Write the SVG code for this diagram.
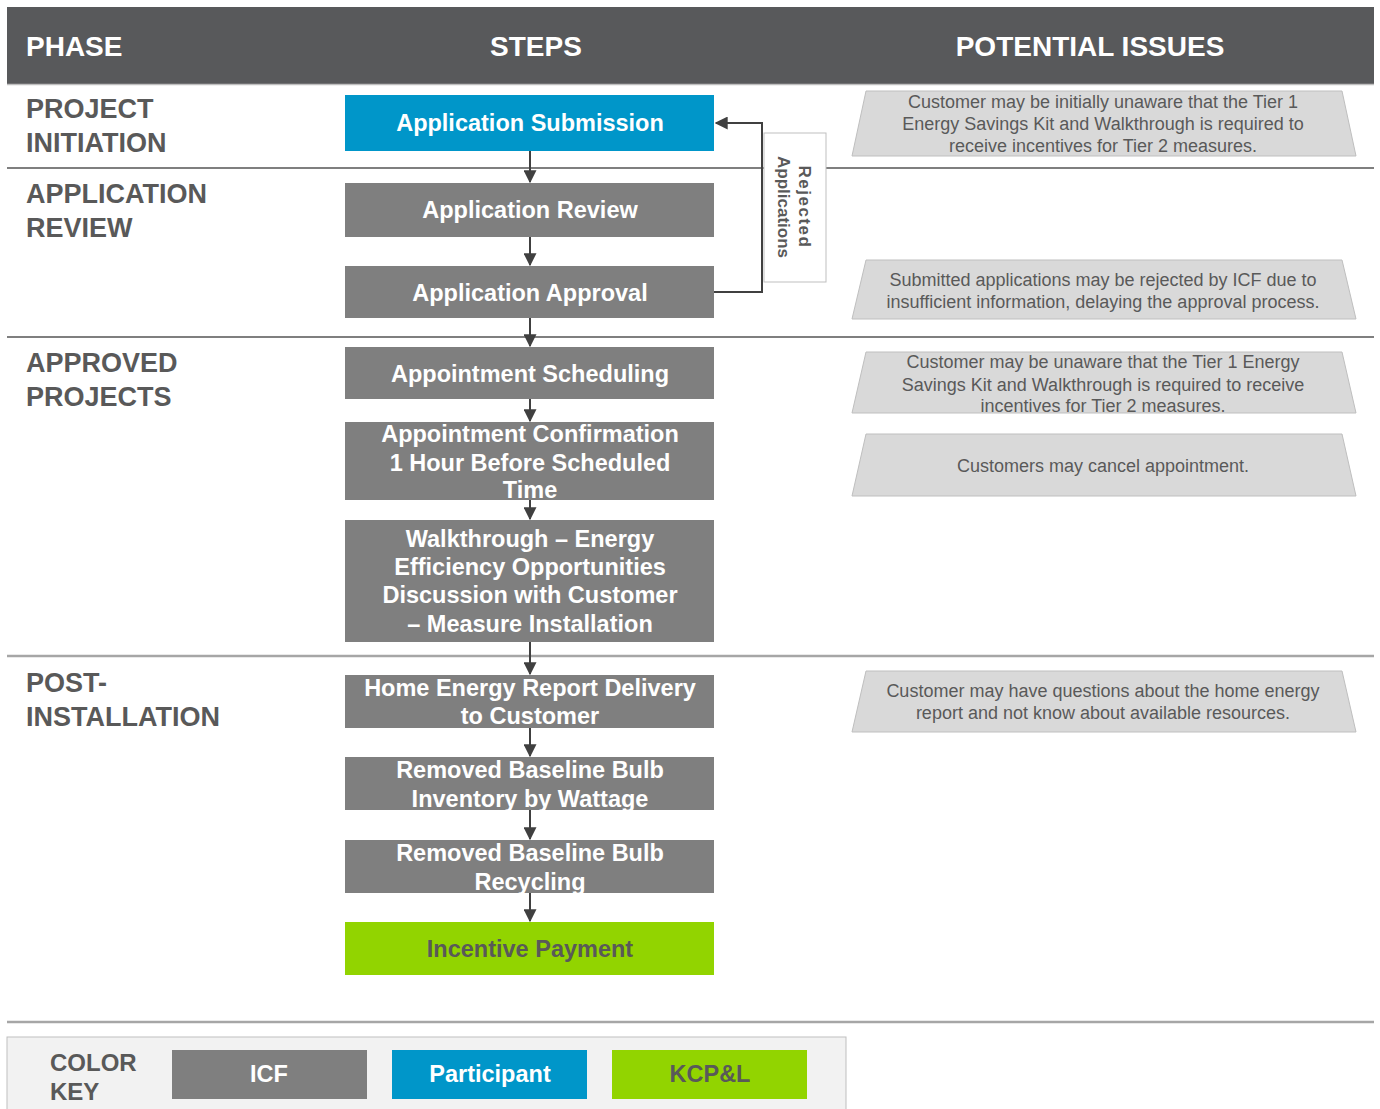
<svg xmlns="http://www.w3.org/2000/svg" width="1380" height="1109" viewBox="0 0 1380 1109">
<defs>
<style>
.hdr{font-family:"Liberation Sans",Arial,sans-serif;font-weight:bold;font-size:28px;fill:#ffffff}
.ph{font-family:"Liberation Sans",Arial,sans-serif;font-weight:bold;font-size:27px;fill:#595959}
.st{font-family:"Liberation Sans",Arial,sans-serif;font-weight:bold;font-size:23.5px;fill:#ffffff;text-anchor:middle;dominant-baseline:central}
.gray{fill:#7f7f7f}
.blue{fill:#0096c9}
.green{fill:#92d400}
.iss{fill:#d9d9d9;stroke:#bfbfbf;stroke-width:1}
.it{font-family:"Liberation Sans",Arial,sans-serif;font-size:18px;fill:#595959;text-anchor:middle;dominant-baseline:central}
.div{stroke:#7f7f7f;stroke-width:2}
.conn{stroke:#404040;stroke-width:2;fill:none}
</style>
<marker id="arr" viewBox="0 0 10 10" refX="9" refY="5" markerWidth="6.5" markerHeight="6.5" markerUnits="strokeWidth" orient="auto">
<path d="M0,0 L10,5 L0,10 z" fill="#404040"/>
</marker>
</defs>
<rect x="0" y="0" width="1380" height="1109" fill="#ffffff"/>
<g id="header">
<rect x="7" y="7" width="1367" height="77" fill="#58595b"/>
<line x1="7" y1="84.5" x2="1374" y2="84.5" stroke="#bfbfbf" stroke-width="1.5"/>
<text class="hdr" x="26" y="56">PHASE</text>
<text class="hdr" x="536" y="56" text-anchor="middle">STEPS</text>
<text class="hdr" x="1090" y="56" text-anchor="middle">POTENTIAL ISSUES</text>
</g>
<g id="dividers">
<line class="div" x1="7" y1="168" x2="1374" y2="168"/>
<line class="div" x1="7" y1="337" x2="1374" y2="337"/>
<line x1="7" y1="656" x2="1374" y2="656" stroke="#a6a6a6" stroke-width="2.5"/>
<line x1="7" y1="1022" x2="1374" y2="1022" stroke="#a6a6a6" stroke-width="2.5"/>
</g>
<g id="phases">
<text class="ph" x="26" y="118">PROJECT</text>
<text class="ph" x="26" y="152">INITIATION</text>
<text class="ph" x="26" y="203">APPLICATION</text>
<text class="ph" x="26" y="237">REVIEW</text>
<text class="ph" x="26" y="372">APPROVED</text>
<text class="ph" x="26" y="406">PROJECTS</text>
<text class="ph" x="26" y="692">POST-</text>
<text class="ph" x="26" y="726">INSTALLATION</text>
</g>
<g id="connectors">
<line class="conn" x1="530" y1="151" x2="530" y2="182" marker-end="url(#arr)"/>
<line class="conn" x1="530" y1="237" x2="530" y2="265" marker-end="url(#arr)"/>
<line class="conn" x1="530" y1="318" x2="530" y2="346" marker-end="url(#arr)"/>
<line class="conn" x1="530" y1="399" x2="530" y2="421" marker-end="url(#arr)"/>
<line class="conn" x1="530" y1="500" x2="530" y2="519" marker-end="url(#arr)"/>
<line class="conn" x1="530" y1="642" x2="530" y2="674" marker-end="url(#arr)"/>
<line class="conn" x1="530" y1="728" x2="530" y2="756" marker-end="url(#arr)"/>
<line class="conn" x1="530" y1="810" x2="530" y2="839" marker-end="url(#arr)"/>
<line class="conn" x1="530" y1="893" x2="530" y2="921" marker-end="url(#arr)"/>
<polyline class="conn" points="714,292 762,292 762,123 716,123" marker-end="url(#arr)"/>
</g>
<g id="rejected">
<rect x="764" y="133" width="62" height="149" fill="#ffffff" stroke="#bfbfbf" stroke-width="1"/>
<g transform="translate(795,207) rotate(90)">
<text x="0" y="-9" font-family="Liberation Sans,Arial,sans-serif" font-weight="bold" font-size="17" fill="#595959" text-anchor="middle" dominant-baseline="central" letter-spacing="1.5">Rejected</text>
<text x="0" y="12" font-family="Liberation Sans,Arial,sans-serif" font-weight="bold" font-size="17" fill="#595959" text-anchor="middle" dominant-baseline="central">Applications</text>
</g>
</g>
<g id="step1"><rect class="blue" x="345" y="95" width="369" height="56"/><text class="st" x="530" y="123">Application Submission</text></g>
<g id="step2"><rect class="gray" x="345" y="183" width="369" height="54"/><text class="st" x="530" y="210">Application Review</text></g>
<g id="step3"><rect class="gray" x="345" y="266" width="369" height="52"/><text class="st" x="530" y="293">Application Approval</text></g>
<g id="step4"><rect class="gray" x="345" y="347" width="369" height="52"/><text class="st" x="530" y="374">Appointment Scheduling</text></g>
<g id="step5"><rect class="gray" x="345" y="422" width="369" height="78"/>
<text class="st" x="530" y="434">Appointment Confirmation</text>
<text class="st" x="530" y="463">1 Hour Before Scheduled</text>
<text class="st" x="530" y="490">Time</text></g>
<g id="step6"><rect class="gray" x="345" y="520" width="369" height="122"/>
<text class="st" x="530" y="539">Walkthrough – Energy</text>
<text class="st" x="530" y="567">Efficiency Opportunities</text>
<text class="st" x="530" y="595">Discussion with Customer</text>
<text class="st" x="530" y="624">– Measure Installation</text></g>
<g id="step7"><rect class="gray" x="345" y="675" width="369" height="53"/>
<text class="st" x="530" y="688">Home Energy Report Delivery</text>
<text class="st" x="530" y="716">to Customer</text></g>
<g id="step8"><rect class="gray" x="345" y="757" width="369" height="53"/>
<text class="st" x="530" y="770">Removed Baseline Bulb</text>
<text class="st" x="530" y="799">Inventory by Wattage</text></g>
<g id="step9"><rect class="gray" x="345" y="840" width="369" height="53"/>
<text class="st" x="530" y="853">Removed Baseline Bulb</text>
<text class="st" x="530" y="882">Recycling</text></g>
<g id="step10"><rect class="green" x="345" y="922" width="369" height="53"/>
<text class="st" x="530" y="949" style="fill:#595959">Incentive Payment</text></g>
<g id="issue1"><polygon class="iss" points="866,91 1342,91 1356,156 852,156"/>
<text class="it" x="1103" y="102">Customer may be initially unaware that the Tier 1</text>
<text class="it" x="1103" y="124">Energy Savings Kit and Walkthrough is required to</text>
<text class="it" x="1103" y="146">receive incentives for Tier 2 measures.</text></g>
<g id="issue2"><polygon class="iss" points="866,260 1342,260 1356,319 852,319"/>
<text class="it" x="1103" y="280">Submitted applications may be rejected by ICF due to</text>
<text class="it" x="1103" y="302">insufficient information, delaying the approval process.</text></g>
<g id="issue3"><polygon class="iss" points="866,352 1342,352 1356,413 852,413"/>
<text class="it" x="1103" y="362">Customer may be unaware that the Tier 1 Energy</text>
<text class="it" x="1103" y="385">Savings Kit and Walkthrough is required to receive</text>
<text class="it" x="1103" y="406">incentives for Tier 2 measures.</text></g>
<g id="issue4"><polygon class="iss" points="866,434 1342,434 1356,496 852,496"/>
<text class="it" x="1103" y="466">Customers may cancel appointment.</text></g>
<g id="issue5"><polygon class="iss" points="866,671 1342,671 1356,732 852,732"/>
<text class="it" x="1103" y="691">Customer may have questions about the home energy</text>
<text class="it" x="1103" y="713">report and not know about available resources.</text></g>
<g id="colorkey">
<rect x="7" y="1037" width="839" height="80" fill="#f2f2f2" stroke="#bfbfbf" stroke-width="1"/>
<text x="50" y="1071" font-family="Liberation Sans,Arial,sans-serif" font-weight="bold" font-size="24" fill="#595959">COLOR</text>
<text x="50" y="1100" font-family="Liberation Sans,Arial,sans-serif" font-weight="bold" font-size="24" fill="#595959">KEY</text>
<rect class="gray" x="172" y="1050" width="195" height="49"/>
<text class="st" x="269" y="1074">ICF</text>
<rect class="blue" x="392" y="1050" width="195" height="49"/>
<text class="st" x="490" y="1074">Participant</text>
<rect class="green" x="612" y="1050" width="195" height="49"/>
<text class="st" x="710" y="1074" style="fill:#595959">KCP&amp;L</text>
</g>
</svg>
